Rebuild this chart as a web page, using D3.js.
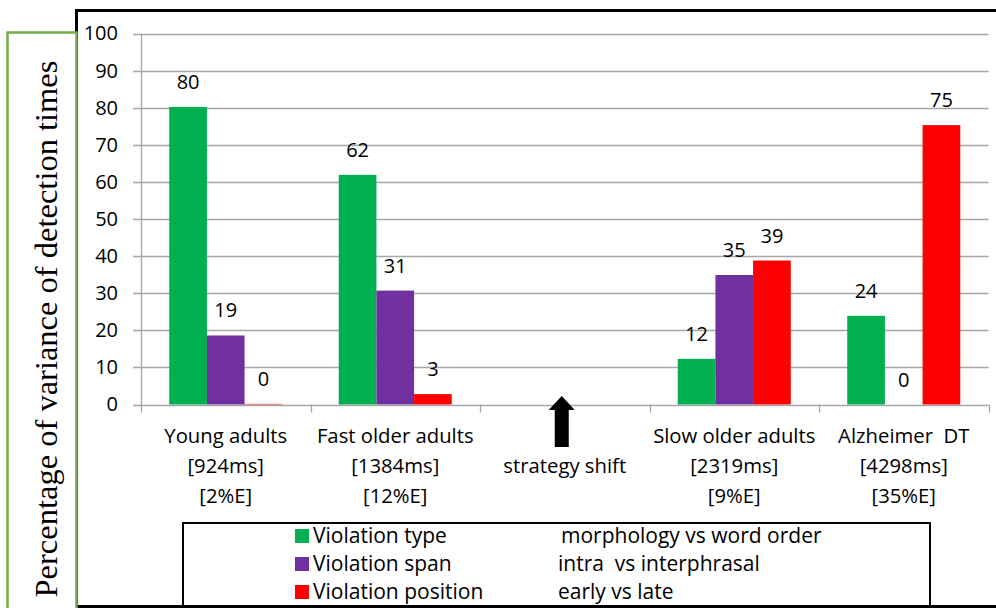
<!DOCTYPE html>
<html>
<head>
<meta charset="utf-8">
<script src="https://cdn.jsdelivr.net/npm/d3@7"></script>
<style>
  body { margin: 0; background: #fff; }
  svg { display: block; }
  text { font-family: "Open Sans", Lato, sans-serif; fill: #000; white-space: pre; }
</style>
</head>
<body>
<div id="chart"></div>
<script>
// chart data
var groups = ["Young adults", "Fast older adults", "strategy shift", "Slow older adults", "Alzheimer  DT"];
var groupLines = [
  ["Young adults", "[924ms]", "[2%E]"],
  ["Fast older adults", "[1384ms]", "[12%E]"],
  ["", "strategy shift", ""],
  ["Slow older adults", "[2319ms]", "[9%E]"],
  ["Alzheimer  DT", "[4298ms]", "[35%E]"]
];
var seriesNames = ["Violation type", "Violation span", "Violation position"];
var seriesNotes = ["morphology vs word order", "intra  vs interphrasal", "early vs late"];
var seriesColors = ["#00b050", "#7030a0", "#ff0000"];
// null = no bar in that group
var violationType = [80.2, 61.9, null, 12.3, 23.9];
var violationSpan = [18.6, 30.7, null, 34.9, 0];
var violationPosition = [0.1, 2.8, null, 38.8, 75.3];
var yTicks = [0, 10, 20, 30, 40, 50, 60, 70, 80, 90, 100];
var yTitle = "Percentage of variance of detection times";

var svgWidth = 996;
var svgHeight = 608;

var svg = d3.select("#chart").append("svg")
  .attr("width", svgWidth)
  .attr("height", svgHeight);

// plot area
var plot = {left: 141, right: 988.5, top: 33.5, bottom: 404.5};

var x0 = d3.scaleBand()
  .domain(groups)
  .range([plot.left, plot.right])
  .paddingInner(0)
  .paddingOuter(0);

var x1 = d3.scaleBand()
  .domain(seriesNames)
  .range([0, x0.bandwidth()])
  .paddingInner(0)
  .paddingOuter(0.75);

var y = d3.scaleLinear()
  .domain([0, 100])
  .range([plot.bottom, plot.top]);

// gridlines
svg.append("g")
  .selectAll("line")
  .data(yTicks)
  .enter()
  .append("line")
  .attr("x1", plot.left - 8)
  .attr("x2", plot.right)
  .attr("y1", d => Math.round(y(d)) + 0.5)
  .attr("y2", d => Math.round(y(d)) + 0.5)
  .attr("stroke", "#a6a6a6")
  .attr("stroke-width", 1.3);

// y axis
var leftAxis = d3.axisLeft(y)
  .tickValues(yTicks)
  .tickSize(0)
  .tickPadding(23);

var yAxis = svg.append("g")
  .attr("transform", `translate(${plot.left}, 0)`)
  .call(leftAxis);
yAxis.select(".domain").attr("stroke", "#a6a6a6").attr("stroke-width", 1.3);
yAxis.selectAll("text")
  .style("font-size", "20px")
  .style("font-family", "'Open Sans', sans-serif")
  .attr("fill", "#000");

// x axis ticks at band edges
var edges = groups.map(g => x0(g)).concat([plot.right]);
svg.append("g")
  .selectAll("line")
  .data(edges)
  .enter()
  .append("line")
  .attr("x1", d => Math.round(d) + 0.5)
  .attr("x2", d => Math.round(d) + 0.5)
  .attr("y1", plot.bottom)
  .attr("y2", plot.bottom + 8)
  .attr("stroke", "#a6a6a6")
  .attr("stroke-width", 1.3);

// bars
var seriesValues = [violationType, violationSpan, violationPosition];
var barData = [];
groups.forEach(function(g, i) {
  seriesNames.forEach(function(s, j) {
    var v = seriesValues[j][i];
    if (v !== null) {
      barData.push({group: g, series: s, value: v, color: seriesColors[j]});
    }
  });
});

svg.append("g")
  .selectAll("rect")
  .data(barData)
  .enter()
  .append("rect")
  .attr("x", d => x0(d.group) + x1(d.series))
  .attr("y", d => y(d.value))
  .attr("width", x1.bandwidth())
  .attr("height", d => y(0) - y(d.value))
  .attr("fill", d => d.color)
  .attr("stroke", d => d.value > 1 ? "none" : "#f08080")
  .attr("stroke-width", 0.6);

// data labels
svg.append("g")
  .selectAll("text")
  .data(barData)
  .enter()
  .append("text")
  .attr("x", d => x0(d.group) + x1(d.series) + x1.bandwidth() / 2)
  .attr("y", d => y(d.value) - 18)
  .style("font-size", "20px")
  .style("text-anchor", "middle")
  .text(d => d3.format(".0f")(d.value));

// category labels
var catGroup = svg.append("g");
groups.forEach(function(g, i) {
  var cx = x0(g) + x0.bandwidth() / 2;
  groupLines[i].forEach(function(line, k) {
    catGroup.append("text")
      .attr("x", cx)
      .attr("y", 443 + k * 30)
      .style("font-size", "20.3px")
      .style("text-anchor", "middle")
      .text(line);
  });
});

// strategy shift arrow
var ax = x0("strategy shift") + x0.bandwidth() / 2 - 3;
svg.append("path")
  .attr("d", `M${ax},396 L${ax + 13},410 L${ax + 7},410 L${ax + 7},447 L${ax - 7},447 L${ax - 7},410 L${ax - 13},410 Z`)
  .attr("fill", "#000");

// legend box
var legend = svg.append("g");
legend.append("rect")
  .attr("x", 183)
  .attr("y", 523)
  .attr("width", 747)
  .attr("height", 100)
  .attr("fill", "#fff")
  .attr("stroke", "#000")
  .attr("stroke-width", 2);

seriesNames.forEach(function(s, j) {
  var ly = 536 + j * 28;
  legend.append("rect")
    .attr("x", 295)
    .attr("y", ly - 7)
    .attr("width", 14)
    .attr("height", 14)
    .attr("fill", seriesColors[j]);
  legend.append("text")
    .attr("x", 313)
    .attr("y", ly + 7)
    .style("font-size", "21px")
    .text(s);
  legend.append("text")
    .attr("x", j === 0 ? 561 : 558)
    .attr("y", ly + 7)
    .style("font-size", "21px")
    .text(seriesNotes[j]);
});

// outer frame lines
svg.append("line")
  .attr("x1", 76).attr("x2", 996)
  .attr("y1", 10.5).attr("y2", 10.5)
  .attr("stroke", "#000").attr("stroke-width", 3);
svg.append("line")
  .attr("x1", 76.5).attr("x2", 76.5)
  .attr("y1", 9).attr("y2", 608)
  .attr("stroke", "#000").attr("stroke-width", 3);
svg.append("line")
  .attr("x1", 76).attr("x2", 996)
  .attr("y1", 606.5).attr("y2", 606.5)
  .attr("stroke", "#000").attr("stroke-width", 3);

// y title box
svg.append("rect")
  .attr("x", 7.5)
  .attr("y", 32.5)
  .attr("width", 69)
  .attr("height", 600)
  .attr("fill", "#fff")
  .attr("stroke", "#70ad47")
  .attr("stroke-width", 2.5);

svg.append("text")
  .attr("transform", "translate(57, 329) rotate(-90)")
  .style("font-family", "'Liberation Serif', 'Times New Roman', serif")
  .style("font-size", "32.5px")
  .style("text-anchor", "middle")
  .text(yTitle);
</script>
</body>
</html>
